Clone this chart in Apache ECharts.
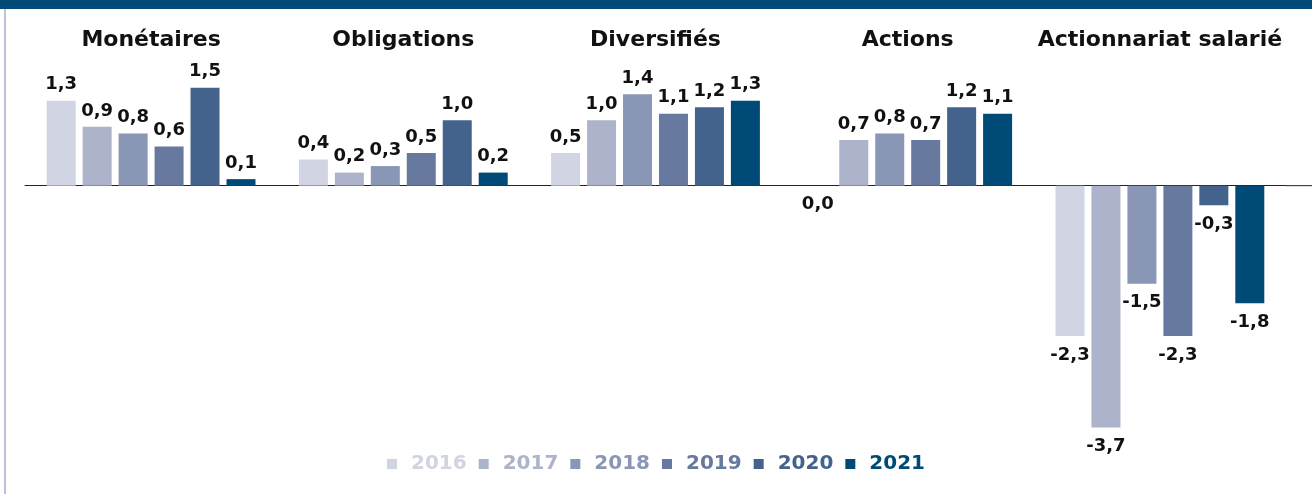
<!DOCTYPE html>
<html lang="fr">
<head>
    <meta charset="UTF-8">
    <title>Collecte nette par classe d'actifs</title>
    <script src="https://cdn.jsdelivr.net/npm/echarts@6/dist/echarts.min.js"></script>
    <style>
        html, body { margin: 0; padding: 0; background: #fff; }
        #main { width: 1312px; height: 494px; }
    </style>
</head>
<body>
    <div id="main"></div>
    <script type="text/javascript">
        // categories and years
        var categories = ['Monétaires', 'Obligations', 'Diversifiés', 'Actions', 'Actionnariat salarié'];
        var years = ['2016', '2017', '2018', '2019', '2020', '2021'];
        var colors = ['#d0d4e3', '#adb3ca', '#8a96b5', '#67799e', '#43628c', '#004a78'];

        // values per year (one per category)
        var v2016 = [1.3, 0.4, 0.5, 0.0, -2.3];
        var v2017 = [0.9, 0.2, 1.0, 0.7, -3.7];
        var v2018 = [0.8, 0.3, 1.4, 0.8, -1.5];
        var v2019 = [0.6, 0.5, 1.1, 0.7, -2.3];
        var v2020 = [1.5, 1.0, 1.2, 1.2, -0.3];
        var v2021 = [0.1, 0.2, 1.3, 1.1, -1.8];
        var values = [v2016, v2017, v2018, v2019, v2020, v2021];

        var font = 'DejaVu Sans';

        var myChart = echarts.init(document.getElementById('main'));

        var series = years.map(function (y, i) {
            return {
                name: y,
                type: 'bar',
                xAxisIndex: 0,
                barWidth: 29,
                barGap: '24%',
                itemStyle: { color: colors[i] },
                data: values[i].map(function (v) {
                    // labels sit above positive bars, below the others
                    return {
                        value: v,
                        label: v <= 0 ? { position: 'bottom', distance: 10 } : { position: 'top', distance: 7 }
                    };
                }),
                label: {
                    show: true,
                    color: '#111',
                    fontFamily: font,
                    fontWeight: 'bold',
                    fontSize: 18,
                    formatter: function (p) {
                        return p.value.toFixed(1).replace('.', ',');
                    }
                }
            };
        });

        var option = {
            animation: false,
            textStyle: { fontFamily: font },
            graphic: [{
                type: 'rect',
                shape: { x: 0, y: 0, width: 1312, height: 9 },
                style: { fill: '#004a78' }
            }, {
                type: 'rect',
                shape: { x: 4, y: 9, width: 2, height: 485 },
                style: { fill: '#bcc2dc' }
            }],
            legend: {
                left: 'center',
                top: 449,
                icon: 'rect',
                itemWidth: 10,
                itemHeight: 10,
                itemGap: 12,
                textStyle: {
                    fontSize: 20,
                    fontWeight: 'bold',
                    fontFamily: font,
                    padding: [0, 0, 0, 9]
                },
                data: years.map(function (y, i) {
                    return { name: y, textStyle: { color: colors[i] } };
                })
            },
            grid: {
                left: 25,
                right: 26,
                top: 55,
                bottom: 47
            },
            xAxis: [{
                type: 'category',
                data: categories,
                axisLine: { onZero: true, lineStyle: { color: '#222', width: 1 } },
                axisTick: { show: false },
                axisLabel: { show: false }
            }, {
                type: 'category',
                data: categories,
                position: 'top',
                axisLine: { show: false, onZero: false },
                axisTick: { show: false },
                axisLabel: {
                    interval: 0,
                    margin: 4,
                    color: '#111',
                    fontFamily: font,
                    fontWeight: 'bold',
                    fontSize: 22
                }
            }],
            yAxis: {
                type: 'value',
                min: -4,
                max: 2,
                show: false
            },
            series: series
        };

        myChart.setOption(option);

        // the zero line runs on to the right edge of the picture
        var zeroY = myChart.convertToPixel({ yAxisIndex: 0 }, 0);
        myChart.setOption({
            graphic: [{}, {}, {
                type: 'line',
                shape: { x1: 1286, y1: zeroY, x2: 1312, y2: zeroY },
                style: { stroke: '#222', lineWidth: 1 }
            }]
        });
    </script>
</body>
</html>
